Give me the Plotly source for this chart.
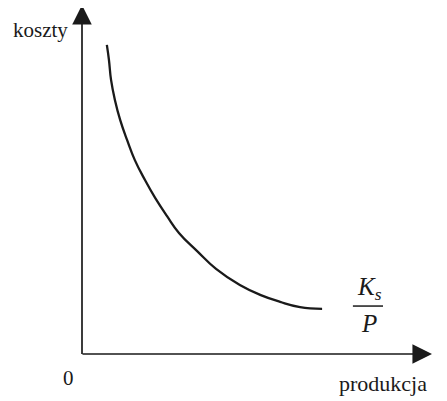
import plotly.graph_objects as go

# krzywa kosztów stałych na jednostkę (K_s / P), jednostki umowne
produkcja = [0.71, 0.77, 0.83, 0.94, 1.09, 1.29, 1.51, 1.80, 2.09, 2.43,
             2.77, 3.29, 3.83, 4.51, 5.09, 5.66, 6.23, 6.86]
koszty = [8.83, 8.40, 7.83, 7.26, 6.69, 6.11, 5.54, 4.97, 4.46, 3.94,
          3.46, 2.94, 2.43, 1.97, 1.69, 1.49, 1.34, 1.29]

x_max = 10.0
y_max = 9.97

SERIF = "Liberation Serif, Times New Roman, serif"
INK = "#1a1a1a"
PX = 35.0  # pikseli na jednostkę

fig = go.Figure()
fig.add_trace(go.Scatter(
    x=produkcja, y=koszty, mode="lines",
    line=dict(color=INK, width=2.3, shape="spline", smoothing=1.3),
    hoverinfo="skip", showlegend=False,
))

annotations = [
    # osie ze strzałkami
    dict(x=0, y=y_max, ax=0, ay=-0.04, xref="x", yref="y", axref="x", ayref="y",
         showarrow=True, arrowhead=2, arrowsize=2.3, arrowwidth=1.7, arrowcolor=INK, text=""),
    dict(x=x_max, y=0, ax=-0.03, ay=0, xref="x", yref="y", axref="x", ayref="y",
         showarrow=True, arrowhead=2, arrowsize=2.3, arrowwidth=1.7, arrowcolor=INK, text=""),
    dict(x=-1.18, y=9.26, text="koszty", showarrow=False, xref="x", yref="y",
         font=dict(family=SERIF, size=21, color=INK)),
    dict(x=-0.4, y=-0.69, text="0", showarrow=False, xref="x", yref="y",
         font=dict(family=SERIF, size=21, color=INK)),
    dict(x=8.6, y=-0.84, text="produkcja", showarrow=False, xref="x", yref="y",
         font=dict(family=SERIF, size=22, color=INK)),
    dict(x=8.22, y=1.86, text="<i>K<sub>s</sub></i>", showarrow=False, xref="x", yref="y",
         font=dict(family=SERIF, size=25, color=INK)),
    dict(x=8.2, y=0.88, text="<i>P</i>", showarrow=False, xref="x", yref="y",
         font=dict(family=SERIF, size=25, color=INK)),
]

# zakresy przesunięte o 8 px (margines strony)
x0 = -74 / PX
y_top = 346 / PX

fig.update_layout(
    width=447, height=401,
    margin=dict(l=0, r=0, t=0, b=0),
    paper_bgcolor="white", plot_bgcolor="white",
    xaxis=dict(range=[x0, x0 + 447 / PX], visible=False, fixedrange=True),
    yaxis=dict(range=[y_top - 401 / PX, y_top], visible=False, fixedrange=True),
    annotations=annotations,
    shapes=[dict(type="line", xref="x", yref="y", x0=7.74, x1=8.6, y0=1.37, y1=1.37,
                 line=dict(color=INK, width=1.5))],
)

fig.write_html("out.html")
